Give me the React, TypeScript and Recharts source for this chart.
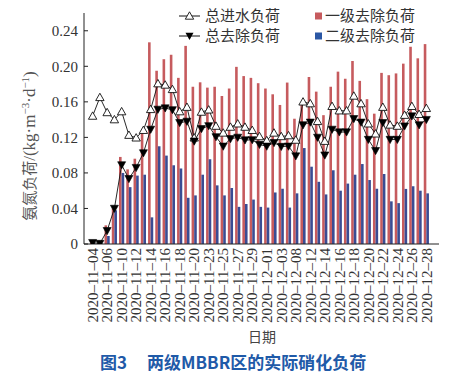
import React from 'react';
import { ComposedChart, Bar, Line, XAxis, YAxis, Legend } from 'recharts';

const dates = [
  '2020-11-04', '2020-11-05', '2020-11-06', '2020-11-08', '2020-11-10', '2020-11-11', '2020-11-12',
  '2020-11-13', '2020-11-14', '2020-11-15', '2020-11-16', '2020-11-17', '2020-11-18', '2020-11-19',
  '2020-11-20', '2020-11-22', '2020-11-23', '2020-11-24', '2020-11-25', '2020-11-26', '2020-11-27',
  '2020-11-28', '2020-11-29', '2020-11-30', '2020-12-01', '2020-12-02', '2020-12-03', '2020-12-06',
  '2020-12-08', '2020-12-10', '2020-12-12', '2020-12-13', '2020-12-14', '2020-12-15', '2020-12-16',
  '2020-12-17', '2020-12-18', '2020-12-19', '2020-12-20', '2020-12-21', '2020-12-22', '2020-12-23',
  '2020-12-24', '2020-12-25', '2020-12-26', '2020-12-27', '2020-12-28',
];

const influentLoad = [
  0.144, 0.165, 0.148, 0.14, 0.149, 0.1225, 0.1195, 0.128, 0.1515, 0.1805,
  0.179, 0.174, 0.149, 0.154, 0.1195, 0.1485, 0.151, 0.1327, 0.125, 0.1316,
  0.1353, 0.1316, 0.128, 0.121, 0.1165, 0.125, 0.121, 0.122, 0.117, 0.16,
  0.158, 0.138, 0.1157, 0.155, 0.15, 0.15, 0.1666, 0.158, 0.1353, 0.124,
  0.154, 0.134, 0.1327, 0.145, 0.155, 0.146, 0.1527,
];

const totalRemoval = [
  0.0015, 0.0005, 0.015, 0.04, 0.089, 0.0735, 0.086, 0.1025, 0.129, 0.1515,
  0.153, 0.151, 0.1365, 0.138, 0.1157, 0.1297, 0.133, 0.1206, 0.11, 0.1184,
  0.12, 0.117, 0.1172, 0.112, 0.11, 0.114, 0.1097, 0.11, 0.099, 0.134,
  0.137, 0.12, 0.1, 0.129, 0.126, 0.126, 0.141, 0.137, 0.1176, 0.105,
  0.1365, 0.1176, 0.1176, 0.1327, 0.144, 0.134, 0.14,
];

const stage1Removal = [
  0.002, 0.001, 0.021, 0.04, 0.098, 0.084, 0.096, 0.126, 0.227, 0.195,
  0.208, 0.213, 0.187, 0.223, 0.177, 0.182, 0.176, 0.177, 0.1666, 0.175,
  0.1994, 0.189, 0.187, 0.181, 0.175, 0.1685, 0.1565, 0.1817, 0.141, 0.158,
  0.188, 0.1715, 0.145, 0.177, 0.194, 0.186, 0.206, 0.1836, 0.163, 0.1467,
  0.1926, 0.19, 0.192, 0.203, 0.222, 0.209, 0.225,
];

const stage2Removal = [
  0.001, 0.001, 0.009, 0.038, 0.08, 0.064, 0.077, 0.078, 0.03, 0.11,
  0.0995, 0.0886, 0.085, 0.052, 0.0547, 0.078, 0.0954, 0.066, 0.0547, 0.063,
  0.0418, 0.045, 0.05, 0.0418, 0.041, 0.058, 0.0622, 0.041, 0.057, 0.108,
  0.087, 0.07, 0.0558, 0.083, 0.06, 0.068, 0.078, 0.09, 0.072, 0.0622,
  0.0788, 0.048, 0.046, 0.062, 0.065, 0.06, 0.057,
];

const yTicks = [0, 0.04, 0.08, 0.12, 0.16, 0.2, 0.24];

const seriesNames = ['总进水负荷', '总去除负荷', '一级去除负荷', '二级去除负荷'];

const data = dates.map((d, i) => ({
  date: d,
  influent: influentLoad[i],
  total: totalRemoval[i],
  s1: stage1Removal[i],
  s2: stage2Removal[i],
}));

const SERIF = '"Liberation Serif", "Times New Roman", serif';
const CJK = '"Noto Sans CJK SC", "Noto Sans", sans-serif';
const RED = '#c65b5e';
const BLUE = '#3a4c93';
const TEXT = '#333';

const XTick = (props: any) => {
  const { x, y, payload } = props;
  return (
    <text
      x={x}
      y={y}
      transform={`rotate(-90, ${x}, ${y})`}
      textAnchor="end"
      dy="0.35em"
      fontSize={15}
      fontFamily={SERIF}
      fill={TEXT}
    >
      {String(payload.value).replace(/-/g, '–')}
    </text>
  );
};

const YTick = (props: any) => {
  const { x, y, payload } = props;
  const v = payload.value as number;
  return (
    <g>
      <line x1={x + 6} x2={x + 10} y1={y} y2={y} stroke="#222" strokeWidth={1} />
      <text x={x} y={y} textAnchor="end" dy="0.35em" fontSize={15} fontFamily={SERIF} fill={TEXT}>
        {v === 0 ? '0' : v.toFixed(2)}
      </text>
    </g>
  );
};

const OpenTri = (props: any) => {
  const { cx, cy, index } = props;
  if (cx == null || cy == null) return <g key={index} />;
  return (
    <polygon
      key={index}
      points={`${cx},${cy - 4.2} ${cx - 4.2},${cy + 3.2} ${cx + 4.2},${cy + 3.2}`}
      fill="#fff"
      stroke="#111"
      strokeWidth={0.9}
    />
  );
};

const FilledTri = (props: any) => {
  const { cx, cy, index } = props;
  if (cx == null || cy == null) return <g key={index} />;
  return (
    <polygon
      key={index}
      points={`${cx - 4},${cy - 3.2} ${cx + 4},${cy - 3.2} ${cx},${cy + 4}`}
      fill="#000"
      stroke="#000"
      strokeWidth={0.6}
    />
  );
};

const YLabel = () => (
  <text
    x={29}
    y={146}
    transform="rotate(-90, 29, 146)"
    textAnchor="middle"
    dy="0.35em"
    fill="#555"
  >
    <tspan fontFamily={CJK} fontSize={15}>氨氮负荷</tspan>
    <tspan fontFamily={SERIF} fontSize={17}>/(kg·m</tspan>
    <tspan fontFamily={SERIF} fontSize={11} dy={-6}>−3</tspan>
    <tspan fontFamily={SERIF} fontSize={17} dy={6}>·d</tspan>
    <tspan fontFamily={SERIF} fontSize={11} dy={-6}>−1</tspan>
    <tspan fontFamily={SERIF} fontSize={17} dy={6}>)</tspan>
  </text>
);

const renderLegend = () => (
  <svg width={456} height={46} style={{ display: 'block' }}>
    <line x1={179} x2={200} y1={16} y2={16} stroke="#111" />
    <polygon points="189.5,11.8 185.3,19.2 193.7,19.2" fill="#fff" stroke="#111" strokeWidth={0.9} />
    <text x={205} y={16} dy="0.35em" fontSize={15} fontFamily={CJK} fill={TEXT}>{seriesNames[0]}</text>
    <line x1={179} x2={200} y1={36} y2={36} stroke="#111" />
    <polygon points="185.5,32.8 193.5,32.8 189.5,40" fill="#000" />
    <text x={205} y={36} dy="0.35em" fontSize={15} fontFamily={CJK} fill={TEXT}>{seriesNames[1]}</text>
    <rect x={315} y={12.5} width={7} height={7} fill={RED} />
    <text x={325} y={16} dy="0.35em" fontSize={15} fontFamily={CJK} fill={TEXT}>{seriesNames[2]}</text>
    <rect x={315} y={32.5} width={7} height={7} fill="#2b57a4" />
    <text x={325} y={36} dy="0.35em" fontSize={15} fontFamily={CJK} fill={TEXT}>{seriesNames[3]}</text>
  </svg>
);

export default function App() {
  return (
    <div style={{ position: 'fixed', left: 0, top: 0, width: 456, height: 378, background: '#fff' }}>
      <ComposedChart
        width={456}
        height={330}
        data={data}
        margin={{ top: 13, right: 17, left: 0, bottom: 0 }}
        barGap={0}
      >
        <XAxis
          dataKey="date"
          height={86}
          interval={1}
          tick={<XTick />}
          tickLine={false}
          tickSize={0}
          tickMargin={4}
          axisLine={{ stroke: '#222' }}
          padding={{ left: 5, right: 9 }}
        />
        <YAxis
          width={84}
          domain={[0, 0.26]}
          ticks={yTicks}
          tick={<YTick />}
          tickLine={false}
          tickSize={0}
          tickMargin={6}
          axisLine={{ stroke: '#222' }}
          label={<YLabel />}
          allowDataOverflow
        />
        <Legend
          layout="horizontal"
          verticalAlign="middle"
          align="center"
          content={renderLegend}
          wrapperStyle={{ position: 'absolute', left: 0, top: 0, width: 456, height: 46 }}
        />
        <Bar dataKey="s1" name={seriesNames[2]} fill={RED} barSize={2.6} isAnimationActive={false} />
        <Bar dataKey="s2" name={seriesNames[3]} fill={BLUE} barSize={2.6} isAnimationActive={false} />
        <Line
          dataKey="influent"
          name={seriesNames[0]}
          stroke="#111"
          strokeWidth={0.9}
          dot={<OpenTri />}
          isAnimationActive={false}
        />
        <Line
          dataKey="total"
          name={seriesNames[1]}
          stroke="#111"
          strokeWidth={0.9}
          dot={<FilledTri />}
          isAnimationActive={false}
        />
      </ComposedChart>
      <div
        style={{
          position: 'absolute', left: 162, width: 200, top: 327, textAlign: 'center',
          fontFamily: CJK, fontSize: 14, lineHeight: '18px', color: '#444',
        }}
      >
        日期
      </div>
      <div
        style={{
          position: 'absolute', left: 100, top: 351, whiteSpace: 'nowrap',
          fontFamily: CJK, fontSize: 17, lineHeight: '22px', color: '#1f5aa8', fontWeight: 700,
        }}
      >
        <span>图3</span>
        <span style={{ marginLeft: 20 }}>两级MBBR区的实际硝化负荷</span>
      </div>
    </div>
  );
}
